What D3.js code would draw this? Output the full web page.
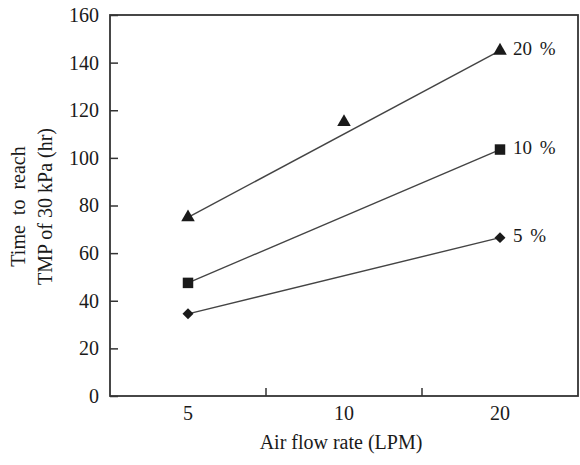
<!DOCTYPE html>
<html>
<head>
<meta charset="utf-8">
<script src="https://cdn.jsdelivr.net/npm/d3@7"></script>
<style>
    body { margin: 0; background: #fff; }
    text { font-family: "Liberation Serif", "Times New Roman", serif; fill: #1a1a1a; }
</style>
</head>
<body>
<div id="chart"></div>
<script>
const flowRates = ["5", "10", "20"];
const seriesNames = ["20 %", "10 %", "5 %"];
const seriesShapes = ["triangle", "square", "diamond"];
const values20 = [75, 115, 145];
const values10 = [47.5, null, 103.5];
const values5 = [34.5, null, 66.5];
const yTicks = [0, 20, 40, 60, 80, 100, 120, 140, 160];

const width = 580;
const height = 465;
const margin = { top: 15, right: 2, bottom: 69, left: 110 };
const innerW = width - margin.left - margin.right;
const innerH = height - margin.top - margin.bottom;

const svg = d3.select("#chart")
    .append("svg")
    .attr("width", width)
    .attr("height", height)
    .append("g")
    .attr("transform", `translate(${margin.left},${margin.top})`);

const xScale = d3.scaleBand()
    .domain(flowRates)
    .range([0, innerW])
    .padding(0);

const yScale = d3.scaleLinear()
    .domain([0, 160])
    .range([innerH, 0]);

const cx = d => xScale(d) + xScale.bandwidth() / 2;

// y axis, ticks pointing inward
const yAxis = svg.append("g")
    .call(d3.axisLeft(yScale).tickValues(yTicks).tickSizeInner(-8).tickSizeOuter(0).tickPadding(11));
yAxis.select(".domain").remove();
yAxis.selectAll("line").attr("stroke", "#333").attr("stroke-width", 1.5);
yAxis.selectAll("text").style("font-size", "20px").attr("fill", "#1a1a1a");

// x axis labels at category centres
const xAxis = svg.append("g")
    .attr("transform", `translate(0,${innerH})`)
    .call(d3.axisBottom(xScale).tickSize(0).tickPadding(10));
xAxis.select(".domain").remove();
xAxis.selectAll("text").style("font-size", "20px").attr("fill", "#1a1a1a");

// tick marks between categories
svg.selectAll(".xsep")
    .data(flowRates.slice(1))
    .enter()
    .append("line")
    .attr("x1", d => xScale(d))
    .attr("x2", d => xScale(d))
    .attr("y1", innerH)
    .attr("y2", innerH - 8)
    .attr("stroke", "#333")
    .attr("stroke-width", 1.5);

// frame
svg.append("rect")
    .attr("x", 0)
    .attr("y", 0)
    .attr("width", innerW)
    .attr("height", innerH)
    .attr("fill", "none")
    .attr("stroke", "#333")
    .attr("stroke-width", 1.8);

const allSeries = [values20, values10, values5].map((vals, i) => ({
    name: seriesNames[i],
    shape: seriesShapes[i],
    points: flowRates.map((c, j) => ({ c: c, v: vals[j] })).filter(p => p.v !== null)
}));

const symbolType = { triangle: d3.symbolTriangle, square: d3.symbolSquare, diamond: d3.symbolSquare };
const symbolSize = { triangle: 80, square: 110, diamond: 60 };
const symbolRot = { triangle: 0, square: 0, diamond: 45 };

allSeries.forEach(s => {
    const first = s.points[0];
    const last = s.points[s.points.length - 1];

    // trend line from first to last point
    svg.append("line")
        .attr("x1", cx(first.c))
        .attr("y1", yScale(first.v))
        .attr("x2", cx(last.c))
        .attr("y2", yScale(last.v))
        .attr("stroke", "#444")
        .attr("stroke-width", 1.4);

    svg.selectAll(null)
        .data(s.points)
        .enter()
        .append("path")
        .attr("transform", d => `translate(${cx(d.c)},${yScale(d.v)}) rotate(${symbolRot[s.shape]})`)
        .attr("d", d3.symbol().type(symbolType[s.shape]).size(symbolSize[s.shape]))
        .attr("fill", "#1a1a1a");

    svg.append("text")
        .attr("x", cx(last.c) + 13)
        .attr("y", yScale(last.v))
        .attr("dominant-baseline", "middle")
        .style("font-size", "19px")
        .style("word-spacing", "3px")
        .text(s.name);
});

// axis titles
svg.append("text")
    .attr("x", innerW / 2 - 3)
    .attr("y", innerH + 53)
    .attr("text-anchor", "middle")
    .style("font-size", "20px")
    .text("Air flow rate (LPM)");

const yTitle = svg.append("text")
    .attr("transform", "rotate(-90)")
    .attr("text-anchor", "middle")
    .style("font-size", "20px");
yTitle.append("tspan")
    .attr("x", -innerH / 2 - 1)
    .attr("y", -85)
    .style("word-spacing", "5px")
    .text("Time to reach");
yTitle.append("tspan")
    .attr("x", -innerH / 2 - 1)
    .attr("y", -58)
    .text("TMP of 30 kPa (hr)");
</script>
</body>
</html>
